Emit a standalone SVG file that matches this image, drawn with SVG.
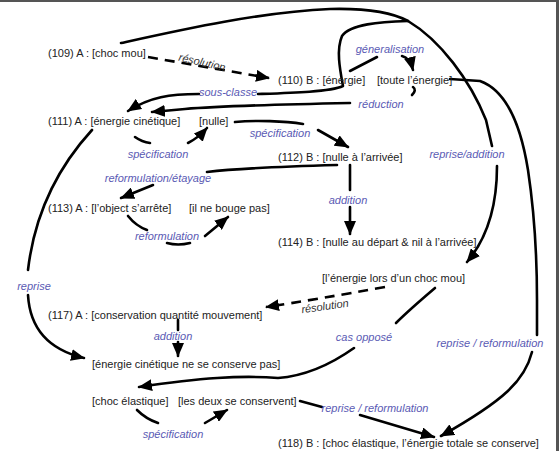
<svg xmlns="http://www.w3.org/2000/svg" width="559" height="451" viewBox="0 0 559 451">
<style>
.t{font-family:"Liberation Sans",Arial,sans-serif;font-size:11px;fill:#222}
.l{font-family:"Liberation Sans",Arial,sans-serif;font-size:11px;font-style:italic;fill:#5a5ab4;text-anchor:middle}
.d{font-family:"Liberation Sans",Arial,sans-serif;font-size:11px;font-style:italic;fill:#333;text-anchor:middle}
.c{fill:none;stroke:#000;stroke-width:2.6;stroke-linecap:round;stroke-linejoin:round}
.a{marker-end:url(#ah)}
.dash{stroke-dasharray:10 7;stroke-linecap:butt}
</style>
<defs>
<marker id="ah" viewBox="0 0 14 12" refX="13" refY="6" markerWidth="14" markerHeight="12" markerUnits="userSpaceOnUse" orient="auto">
<path d="M0,0 L14,6 L0,12 z" fill="#000"/>
</marker>
</defs>
<rect x="0" y="0" width="559" height="451" fill="#fff"/>
<line x1="0" y1="1" x2="559" y2="1" stroke="#555" stroke-width="2"/>
<line x1="557.5" y1="0" x2="557.5" y2="451" stroke="#555" stroke-width="3"/>

<g id="connectors">
<path class="c" d="M121,43 C180,30 260,12 330,9 C370,8 395,14 408,21 C440,40 470,80 486,120 L492,146"/>
<path class="c a" d="M497,166 C497,200 490,235 467,262"/>
<path class="c" d="M408,21 C380,22 350,24 342,36 C336,50 340,70 343,86 C330,92 290,93 258,94"/>
<path class="c a" d="M199,94 C170,94 150,97 128,111"/>
<path class="c dash a" d="M148,57 L269,78"/>
<path class="c" d="M350,71 L377,57"/>
<path class="c a" d="M402,56 Q410,58 413,70"/>
<path class="c" d="M413,87 q4,3 -1,8"/>
<path class="c a" d="M350,103 C300,104 220,106 185,109 L152,112"/>
<path class="c" d="M235,122 C255,120 285,121 303,124"/>
<path class="c a" d="M318,130 L348,147"/>
<path class="c" d="M135,137 Q142,142 150,143"/>
<path class="c a" d="M188,143 Q198,138 207,128"/>
<path class="c" d="M337,165 C300,166 240,168 207,172"/>
<path class="c a" d="M153,185 L121,198"/>
<path class="c" d="M350,165 L350,190"/>
<path class="c a" d="M350,207 L350,234"/>
<path class="c" d="M128,216 Q136,226 147,230"/>
<path class="c" d="M167,243 Q178,246 190,243"/>
<path class="c a" d="M205,236 L228,217"/>
<path class="c" d="M92,130 C60,165 35,210 28,270"/>
<path class="c a" d="M28,295 C30,330 50,350 84,358"/>
<path class="c dash a" d="M385,287 C340,295 300,302 266,307"/>
<path class="c" d="M178,320 L178,330"/>
<path class="c a" d="M178,342 L178,356"/>
<path class="c" d="M435,288 C415,305 403,316 396,323"/>
<path class="c a" d="M354,348 C330,365 305,376 278,378 C240,375 200,378 139,387"/>
<path class="c" d="M137,410 Q146,419 158,423"/>
<path class="c a" d="M205,423 L227,410"/>
<path class="c" d="M300,401 L322,407"/>
<path class="c a" d="M360,415 L434,437"/>
<path class="c" d="M450,79 L480,81 C505,90 520,120 528,170 C534,210 537,260 537,300 L537,335"/>
<path class="c a" d="M532,352 C525,380 505,400 441,436"/>
</g>

<g id="n109"><text class="t" x="48" y="57">(109) A : [choc mou]</text></g>
<g id="n110"><text class="t" x="278" y="84">(110) B : [énergie]</text></g>
<g id="n110b"><text class="t" x="377" y="84">[toute l’énergie]</text></g>
<g id="n111"><text class="t" x="48" y="125">(111) A : [énergie cinétique]</text></g>
<g id="n111b"><text class="t" x="199" y="125">[nulle]</text></g>
<g id="n112"><text class="t" x="278" y="161">(112) B : [nulle à l’arrivée]</text></g>
<g id="n113"><text class="t" x="48" y="212">(113) A : [l’object s’arrête]</text></g>
<g id="n113b"><text class="t" x="189" y="212">[il ne bouge pas]</text></g>
<g id="n114"><text class="t" x="278" y="246">(114) B : [nulle au départ &amp; nil à l’arrivée]</text></g>
<g id="n114b"><text class="t" x="322" y="282">[l’énergie lors d’un choc mou]</text></g>
<g id="n117"><text class="t" x="48" y="319">(117) A : [conservation quantité mouvement]</text></g>
<g id="n117b"><text class="t" x="92" y="368">[énergie cinétique ne se conserve pas]</text></g>
<g id="n117c"><text class="t" x="92" y="405">[choc élastique]</text></g>
<g id="n117d"><text class="t" x="178" y="405">[les deux se conservent]</text></g>
<g id="n118"><text class="t" x="278" y="447">(118) B : [choc élastique, l’énergie totale se conserve]</text></g>

<g id="labels">
<text class="d" x="202" y="66" transform="rotate(13 202 63)">résolution</text>
<text class="l" x="390" y="53">géneralisation</text>
<text class="l" x="228" y="96">sous-classe</text>
<text class="l" x="381" y="108">réduction</text>
<text class="l" x="280" y="137">spécification</text>
<text class="l" x="158" y="158">spécification</text>
<text class="l" x="158" y="182">reformulation/étayage</text>
<text class="l" x="167" y="240">reformulation</text>
<text class="l" x="467" y="158">reprise/addition</text>
<text class="l" x="348" y="204">addition</text>
<text class="l" x="34" y="290">reprise</text>
<text class="d" x="325" y="310" transform="rotate(-8 325 306)">résolution</text>
<text class="l" x="173" y="340">addition</text>
<text class="l" x="364" y="341">cas opposé</text>
<text class="l" x="490" y="347">reprise / reformulation</text>
<text class="l" x="375" y="412">reprise / reformulation</text>
<text class="l" x="173" y="438">spécification</text>
</g>
</svg>
